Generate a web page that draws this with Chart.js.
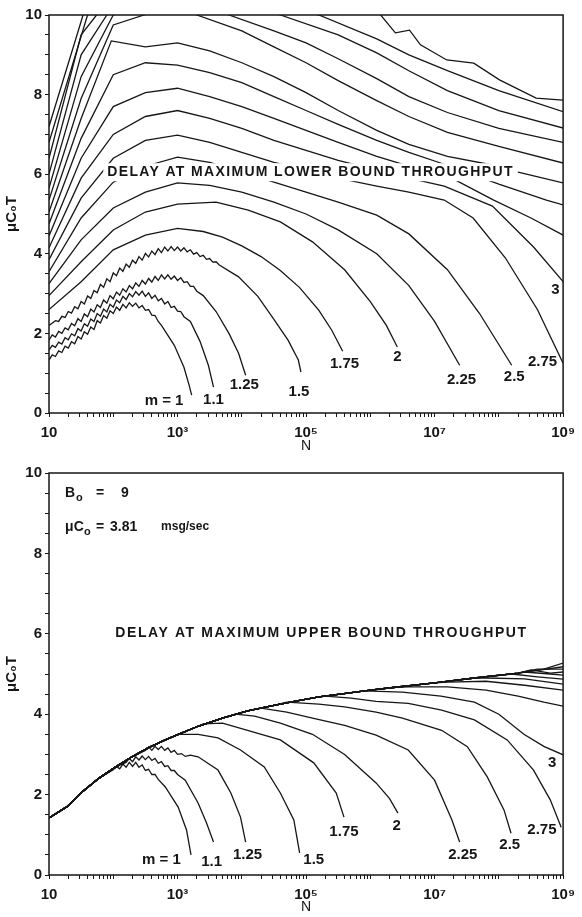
<!DOCTYPE html>
<html>
<head>
<meta charset="utf-8">
<script src="https://cdn.jsdelivr.net/npm/chart.js@4.4.1/dist/chart.umd.min.js"></script>
<style>
  html, body { margin: 0; padding: 0; background: #fff; }
  #wrap { position: relative; width: 582px; height: 917px; overflow: hidden; }
  canvas { position: absolute; left: 0; }
  #lower { top: 0; }
  #upper { top: 456px; }
</style>
</head>
<body>
<div id="wrap">
  <canvas id="lower" width="582" height="456"></canvas>
  <canvas id="upper" width="582" height="461"></canvas>
</div>
<script>
// axis labels
const xTickExp = [1, 3, 5, 7, 9];
const xTickText = ['10', '10³', '10⁵', '10⁷', '10⁹'];
const yTickText = [0, 2, 4, 6, 8, 10];
const mLabels = ['m = 1', '1.1', '1.25', '1.5', '1.75', '2', '2.25', '2.5', '2.75', '3'];

// ---- delay at maximum lower bound throughput, points are [log10 N, muC0T]
// the low m curves are jagged at small N
const lo_1    = [[1,1.33],[1.05,1.46],[1.1,1.42],[1.15,1.56],[1.2,1.52],[1.25,1.68],[1.3,1.63],[1.35,1.79],[1.4,1.74],[1.45,1.92],
                 [1.5,1.86],[1.55,2.04],[1.6,1.98],[1.65,2.16],[1.7,2.1],[1.75,2.32],[1.8,2.26],[1.85,2.45],[1.9,2.38],[1.95,2.57],
                 [2,2.5],[2.05,2.66],[2.1,2.58],[2.15,2.73],[2.2,2.64],[2.25,2.77],[2.3,2.68],[2.35,2.76],[2.4,2.64],[2.45,2.7],
                 [2.5,2.58],[2.55,2.6],[2.6,2.46],[2.65,2.45],[2.7,2.3],[2.75,2.2],[2.95,1.7],[3.1,1.15],[3.18,0.7],[3.22,0.45]];
const lo_1_1  = [[1,1.58],[1.05,1.7],[1.1,1.65],[1.15,1.78],[1.2,1.73],[1.25,1.89],[1.3,1.84],[1.35,1.99],[1.4,1.94],[1.45,2.12],
                 [1.5,2.06],[1.55,2.24],[1.6,2.18],[1.65,2.36],[1.7,2.3],[1.75,2.5],[1.8,2.43],[1.85,2.61],[1.9,2.54],[1.95,2.73],
                 [2,2.66],[2.05,2.84],[2.1,2.77],[2.15,2.93],[2.2,2.85],[2.25,3.0],[2.3,2.92],[2.35,3.05],[2.4,2.96],[2.45,3.06],
                 [2.5,2.93],[2.55,3.02],[2.6,2.88],[2.65,2.96],[2.7,2.82],[2.75,2.88],[2.8,2.74],[2.85,2.8],[2.9,2.65],[2.95,2.68],
                 [3,2.56],[3.05,2.55],[3.1,2.42],[3.2,2.3],[3.35,1.8],[3.48,1.2],[3.56,0.65]];
const lo_1_25 = [[1,1.83],[1.05,1.96],[1.1,1.91],[1.15,2.05],[1.2,2.0],[1.25,2.14],[1.3,2.09],[1.35,2.25],[1.4,2.19],[1.45,2.37],
                 [1.5,2.3],[1.55,2.49],[1.6,2.42],[1.65,2.61],[1.7,2.54],[1.75,2.72],[1.8,2.65],[1.85,2.84],[1.9,2.76],[1.95,2.95],
                 [2,2.87],[2.05,3.04],[2.1,2.96],[2.15,3.12],[2.2,3.04],[2.25,3.2],[2.3,3.12],[2.35,3.27],[2.4,3.18],[2.45,3.33],
                 [2.5,3.24],[2.55,3.38],[2.6,3.29],[2.65,3.43],[2.7,3.33],[2.75,3.47],[2.8,3.37],[2.85,3.47],[2.9,3.36],[2.95,3.44],
                 [3,3.33],[3.05,3.4],[3.1,3.28],[3.15,3.3],[3.2,3.18],[3.25,3.18],[3.3,3.06],[3.4,2.95],[3.6,2.55],[3.8,2.0],
                 [3.95,1.5],[4.06,0.95]];
const lo_1_5  = [[1,2.2],[1.1,2.32],[1.15,2.3],[1.2,2.43],[1.25,2.4],[1.3,2.55],[1.35,2.51],[1.4,2.67],[1.45,2.62],[1.5,2.8],
                 [1.55,2.74],[1.6,2.94],[1.65,2.88],[1.7,3.08],[1.75,3.02],[1.8,3.23],[1.85,3.16],[1.9,3.37],[1.95,3.3],[2,3.52],
                 [2.05,3.45],[2.1,3.64],[2.15,3.56],[2.2,3.74],[2.25,3.66],[2.3,3.84],[2.35,3.76],[2.4,3.93],[2.45,3.84],[2.5,4.01],
                 [2.55,3.92],[2.6,4.07],[2.65,3.98],[2.7,4.13],[2.75,4.03],[2.8,4.17],[2.85,4.07],[2.9,4.18],[2.95,4.08],[3,4.17],
                 [3.05,4.07],[3.1,4.15],[3.15,4.05],[3.2,4.1],[3.25,3.99],[3.3,4.03],[3.35,3.93],[3.4,3.96],[3.45,3.86],[3.5,3.88],
                 [3.55,3.79],[3.6,3.8],[3.65,3.72],[3.95,3.42],[4.25,2.93],[4.5,2.35],[4.72,1.83],[4.88,1.33],[4.92,1.03]];
const lo_1_75 = [[1,2.6],[1.5,3.3],[2,4.1],[2.5,4.47],[3,4.64],[3.4,4.56],[3.7,4.42],[4,4.2],[4.3,3.93],[4.6,3.58],[4.9,3.15],[5.2,2.58],[5.4,2.08],[5.57,1.55]];
const lo_2    = [[1,2.95],[1.5,3.8],[2,4.6],[2.5,5.05],[3,5.25],[3.6,5.3],[4.1,5.1],[4.6,4.8],[5.1,4.3],[5.6,3.6],[6,2.8],[6.25,2.2],[6.42,1.66]];
const lo_2_25 = [[1,3.25],[1.5,4.35],[2,5.15],[2.5,5.55],[3,5.78],[3.5,5.72],[4,5.55],[4.5,5.3],[5,5.0],[5.5,4.6],[6.1,4.0],[6.6,3.2],[7,2.3],[7.39,1.2]];
const lo_2_5  = [[1,3.55],[1.5,4.9],[2,5.8],[2.5,6.2],[3,6.43],[3.5,6.3],[4,6.05],[4.5,5.8],[5,5.55],[5.5,5.3],[6.1,4.97],[6.6,4.5],[7.2,3.6],[7.7,2.5],[8.2,1.2]];
const lo_2_75 = [[1,3.85],[1.5,5.4],[2,6.4],[2.5,6.85],[3,6.98],[3.5,6.8],[4,6.55],[4.5,6.3],[5,6.1],[5.5,5.9],[6.1,5.7],[6.6,5.55],[7.15,5.35],[7.6,4.9],[8.1,3.9],[8.6,2.6],[9,1.25]];
const lo_3    = [[1,4.15],[1.5,5.9],[2,7.0],[2.5,7.45],[3,7.6],[3.5,7.4],[4,7.15],[4.5,6.85],[5,6.6],[5.5,6.35],[6.1,6.1],[6.6,5.9],[7.15,5.7],[7.9,5.2],[8.54,4.17],[9,3.3]];
const lo_3_25 = [[1,4.45],[1.5,6.4],[2,7.7],[2.5,8.05],[3,8.16],[3.5,7.95],[4,7.7],[4.5,7.4],[5,7.1],[5.5,6.8],[6.1,6.45],[6.6,6.2],[7.15,6.0],[7.92,5.35],[8.5,4.9],[9,4.47]];
const lo_3_5  = [[1,4.75],[1.5,6.9],[2,8.5],[2.5,8.8],[3,8.74],[3.5,8.55],[4,8.3],[4.5,7.95],[5,7.6],[5.5,7.25],[6.1,6.85],[6.6,6.55],[7.15,6.25],[8,5.75],[8.74,5.35],[9,5.23]];
const lo_3_75 = [[1,5.05],[1.5,7.4],[1.97,9.35],[2.5,9.2],[3,9.3],[3.5,9.1],[4,8.8],[4.5,8.45],[5,8.05],[5.5,7.6],[6.1,7.1],[6.6,6.75],[7.2,6.45],[8,6.2],[8.3,6.05],[9,5.78]];
const lo_4    = [[1,5.35],[1.5,7.9],[2,9.75],[2.48,10],[3,10.3],[3.3,10],[4,9.6],[4.5,9.2],[5,8.8],[5.5,8.35],[6.1,7.85],[6.6,7.45],[7.2,7.05],[8,6.7],[9,6.28]];
const lo_4_25 = [[1,5.65],[1.5,8.45],[2,10],[3,10.6],[3.8,10],[4.5,9.6],[5,9.3],[5.5,8.9],[6.1,8.4],[6.6,7.95],[7.2,7.55],[8,7.15],[9,6.8]];
const lo_4_5  = [[1,6.0],[1.5,9.0],[1.9,10],[3,10.8],[4.6,10],[5.5,9.5],[6.1,9.05],[6.6,8.6],[7.2,8.1],[8,7.6],[9,7.16]];
const lo_4_75 = [[1,6.4],[1.5,9.5],[1.74,10],[3,11],[5.2,10],[6.1,9.4],[6.6,9.0],[7.2,8.6],[8,8.1],[9,7.57]];
const lo_5    = [[1,6.8],[1.6,10],[3,11.3],[6.11,10.1],[6.39,9.55],[6.61,9.62],[6.78,9.25],[7.19,8.87],[7.61,8.79],[8.01,8.37],[8.58,7.91],[9,7.86]];
const lo_5_25 = [[1,7.2],[1.53,10],[3,11.5],[9,10.5]];
const lowerSeries = [lo_1, lo_1_1, lo_1_25, lo_1_5, lo_1_75, lo_2, lo_2_25, lo_2_5, lo_2_75, lo_3,
                     lo_3_25, lo_3_5, lo_3_75, lo_4, lo_4_25, lo_4_5, lo_4_75, lo_5, lo_5_25];
const lowerLabelAt = [[2.79,0.30],[3.56,0.33],[4.04,0.70],[4.89,0.53],[5.60,1.23],[6.42,1.41],[7.42,0.83],[8.24,0.90],[8.68,1.28],[8.88,3.09]];

// ---- delay at maximum upper bound throughput
// common rising envelope, then each m leaves it (tails)
const upEnv = [[1,1.42],[1.28,1.7],[1.52,2.07],[1.78,2.41],[2.04,2.69],[2.29,2.94],[2.55,3.17],[2.81,3.36],[3.06,3.53],[3.32,3.7],[3.7,3.9],[4.09,4.08],[4.5,4.22],[4.86,4.33],[5.2,4.43],[5.62,4.52],[6,4.6],[6.39,4.67],[7,4.78],[7.62,4.9],[8.3,5.02],[9,5.18]];
const up_1    = [[2.0,2.62],[2.05,2.7],[2.1,2.64],[2.15,2.76],[2.2,2.68],[2.25,2.8],[2.3,2.7],[2.35,2.8],[2.4,2.68],[2.45,2.74],
                 [2.5,2.6],[2.55,2.63],[2.6,2.5],[2.65,2.5],[2.7,2.38],[2.81,2.19],[3.01,1.69],[3.14,1.12],[3.21,0.5]];
const up_1_1  = [[2.2,2.8],[2.25,2.9],[2.3,2.82],[2.35,2.94],[2.4,2.86],[2.45,2.96],[2.5,2.87],[2.55,2.95],[2.6,2.85],[2.65,2.9],
                 [2.7,2.78],[2.75,2.82],[2.8,2.7],[2.85,2.72],[2.9,2.6],[2.95,2.6],[3.0,2.5],[3.12,2.36],[3.32,1.79],[3.45,1.3],[3.56,0.82]];
const up_1_25 = [[2.5,3.1],[2.55,3.18],[2.6,3.1],[2.65,3.2],[2.7,3.12],[2.75,3.2],[2.8,3.1],[2.85,3.16],[2.9,3.05],[2.95,3.1],
                 [3.0,3.0],[3.06,3.02],[3.12,2.95],[3.2,2.98],[3.32,2.94],[3.63,2.61],[3.83,2.04],[3.98,1.44],[4.06,0.82]];
const up_1_5  = [[3.0,3.5],[3.32,3.5],[3.63,3.41],[3.98,3.11],[4.35,2.69],[4.6,2.04],[4.81,1.37],[4.9,0.55]];
const up_1_75 = [[3.4,3.76],[3.7,3.78],[4.09,3.6],[4.6,3.36],[5.12,2.79],[5.47,2.04],[5.59,1.44]];
const up_2    = [[3.9,4.0],[4.2,3.95],[4.6,3.78],[5.1,3.5],[5.6,3.0],[6.09,2.29],[6.3,1.9],[6.43,1.54]];
const up_2_25 = [[4.3,4.15],[4.7,4.05],[5.1,3.9],[5.6,3.72],[6.09,3.48],[6.59,3.11],[7.0,2.36],[7.27,1.37],[7.39,0.82]];
const up_2_5  = [[4.7,4.3],[5.2,4.25],[5.6,4.18],[6.09,4.05],[6.5,3.9],[7.11,3.6],[7.51,3.19],[7.82,2.44],[8.08,1.62],[8.19,1.04]];
const up_2_75 = [[5.3,4.45],[5.7,4.4],[6.09,4.32],[6.59,4.27],[7.11,4.1],[7.62,3.86],[8.13,3.36],[8.54,2.61],[8.8,1.87],[8.97,1.19]];
const up_3    = [[5.9,4.58],[6.5,4.55],[7.1,4.45],[7.62,4.3],[8.0,4.0],[8.39,3.5],[8.7,3.2],[9,2.99]];
const up_3_25 = [[6.6,4.68],[7.2,4.68],[7.8,4.6],[8.3,4.45],[8.7,4.3],[9,4.2]];
const up_3_5  = [[7.2,4.8],[7.8,4.82],[8.4,4.72],[9,4.6]];
const up_3_75 = [[7.8,4.9],[8.4,4.88],[9,4.75]];
const up_4    = [[8.2,5.0],[8.6,4.93],[9,4.87]];
const up_4_25 = [[8.4,5.05],[8.8,5.0],[9,4.97]];
const up_4_5  = [[8.5,5.1],[8.8,5.02],[9,5.05]];
const up_4_75 = [[8.6,5.12],[9,5.12]];
const up_5_25 = [[8.7,5.12],[9,5.27]];
const upperTails = [up_1, up_1_1, up_1_25, up_1_5, up_1_75, up_2, up_2_25, up_2_5, up_2_75, up_3,
                    up_3_25, up_3_5, up_3_75, up_4, up_4_25, up_4_5, up_4_75, up_5_25];
const upperLabelAt = [[2.75,0.37],[3.53,0.32],[4.09,0.50],[5.12,0.37],[5.59,1.07],[6.41,1.22],[7.44,0.50],[8.17,0.75],[8.67,1.12],[8.83,2.79]];

const FONT = '"Liberation Sans", Arial, Helvetica, sans-serif';
const INK = '#161616';

function toXY(pts) {
  return pts.map(p => ({ x: Math.pow(10, p[0]), y: p[1] }));
}

// the box round the plot
const framePlugin = {
  id: 'frame',
  afterDraw(chart) {
    const { ctx, chartArea: a } = chart;
    ctx.save();
    ctx.strokeStyle = INK;
    ctx.lineWidth = 1.5;
    ctx.strokeRect(a.left, a.top, a.right - a.left, a.bottom - a.top);
    ctx.restore();
  }
};

function notesPlugin(cfg) {
  return {
    id: 'notes',
    afterDatasetsDraw(chart) {
      const { ctx } = chart;
      const xs = chart.scales.x, ys = chart.scales.y;
      const px = l => xs.getPixelForValue(Math.pow(10, l));
      const py = v => ys.getPixelForValue(v);
      ctx.save();
      ctx.textAlign = 'center';
      ctx.textBaseline = 'middle';

      // title, lines are broken where it sits
      ctx.font = 'bold 14px ' + FONT;
      ctx.letterSpacing = cfg.spacing;
      const tx = px(cfg.titleAt[0]), ty = py(cfg.titleAt[1]);
      const w = ctx.measureText(cfg.title).width;
      ctx.fillStyle = '#fff';
      ctx.fillRect(tx - w / 2 - 4, ty - 9, w + 8, 18);
      ctx.fillStyle = INK;
      ctx.fillText(cfg.title, tx, ty);
      ctx.letterSpacing = '0px';

      // m labels at the curve ends
      ctx.font = 'bold 15px ' + FONT;
      mLabels.forEach((t, i) => {
        const p = cfg.labelAt[i];
        ctx.fillText(t, px(p[0]), py(p[1]));
      });

      if (cfg.params) {
        ctx.textAlign = 'left';
        const x0 = px(1.25);
        let y0 = py(9.5);
        ctx.font = 'bold 14px ' + FONT;
        ctx.fillText('B', x0, y0);
        ctx.font = 'bold 11px ' + FONT;
        ctx.fillText('o', x0 + 11, y0 + 5);
        ctx.font = 'bold 14px ' + FONT;
        ctx.fillText('=', x0 + 31, y0);
        ctx.fillText('9', x0 + 56, y0);
        y0 = py(8.66);
        ctx.fillText('\u03BCC', x0, y0);
        ctx.font = 'bold 11px ' + FONT;
        ctx.fillText('o', x0 + 19, y0 + 5);
        ctx.font = 'bold 14px ' + FONT;
        ctx.fillText('=', x0 + 31, y0);
        ctx.fillText('3.81', x0 + 45, y0);
        ctx.font = 'bold 12px ' + FONT;
        ctx.fillText('msg/sec', x0 + 96, y0);
      }
      ctx.restore();
    }
  };
}

function makeChart(id, series, opt) {
  const datasets = series.map(s => ({
    data: toXY(s),
    borderColor: INK,
    borderWidth: 1.3,
    pointRadius: 0,
    tension: 0,
    fill: false
  }));
  return new Chart(document.getElementById(id), {
    type: 'line',
    data: { datasets },
    options: {
      responsive: false,
      animation: false,
      devicePixelRatio: 1,
      layout: { padding: { left: 0, right: opt.right, top: opt.top, bottom: 0 } },
      plugins: { legend: { display: false }, tooltip: { enabled: false } },
      scales: {
        x: {
          type: 'logarithmic',
          min: 10,
          max: 1e9,
          afterBuildTicks(scale) {
            const t = [];
            for (let e = 1; e < 9; e++) {
              for (let k = 1; k < 10; k++) t.push({ value: k * Math.pow(10, e) });
            }
            t.push({ value: 1e9 });
            scale.ticks = t;
          },
          afterFit(scale) { scale.height = opt.xh; },
          border: { display: false },
          grid: { drawOnChartArea: false, tickLength: 4, color: INK, lineWidth: 1 },
          ticks: {
            autoSkip: false,
            maxRotation: 0,
            padding: 7,
            color: INK,
            font: { family: FONT, size: 15, weight: 'bold' },
            callback(v) {
              const e = Math.log10(v), r = Math.round(e);
              if (Math.abs(e - r) < 1e-6) {
                const i = xTickExp.indexOf(r);
                if (i >= 0) return xTickText[i];
              }
              return '';
            }
          },
          title: {
            display: true,
            text: 'N',
            color: INK,
            padding: { top: 0, bottom: 1 },
            font: { family: FONT, size: 14 }
          }
        },
        y: {
          min: 0,
          max: 10,
          afterFit(scale) { scale.width = 49; },
          border: { display: false },
          grid: { drawOnChartArea: false, tickLength: 4, color: INK, lineWidth: 1 },
          ticks: {
            stepSize: 0.5,
            autoSkip: false,
            padding: 3,
            color: INK,
            font: { family: FONT, size: 15, weight: 'bold' },
            callback(v) { return yTickText.includes(v) ? String(v) : ''; }
          },
          title: {
            display: true,
            text: '\u03BCC\u2080T',
            color: INK,
            padding: { top: 3, bottom: 0 },
            font: { family: FONT, size: 15, weight: 'bold' }
          }
        }
      }
    },
    plugins: [framePlugin, notesPlugin(opt)]
  });
}

// lower bound chart
makeChart('lower', lowerSeries, {
  right: 15, top: 15, xh: 43,
  title: 'DELAY AT MAXIMUM LOWER BOUND THROUGHPUT',
  titleAt: [5.07, 6.05],
  spacing: '1.35px',
  labelAt: lowerLabelAt
});

// upper bound chart: envelope up to where each tail starts, then the tail
const upperSeries = upperTails.map(t => upEnv.filter(p => p[0] < t[0][0]).concat(t));
upperSeries.push(upEnv);
makeChart('upper', upperSeries, {
  right: 12, top: 17, xh: 42,
  title: 'DELAY AT MAXIMUM UPPER BOUND THROUGHPUT',
  titleAt: [5.24, 6.02],
  spacing: '1.6px',
  labelAt: upperLabelAt,
  params: true
});
</script>
</body>
</html>
